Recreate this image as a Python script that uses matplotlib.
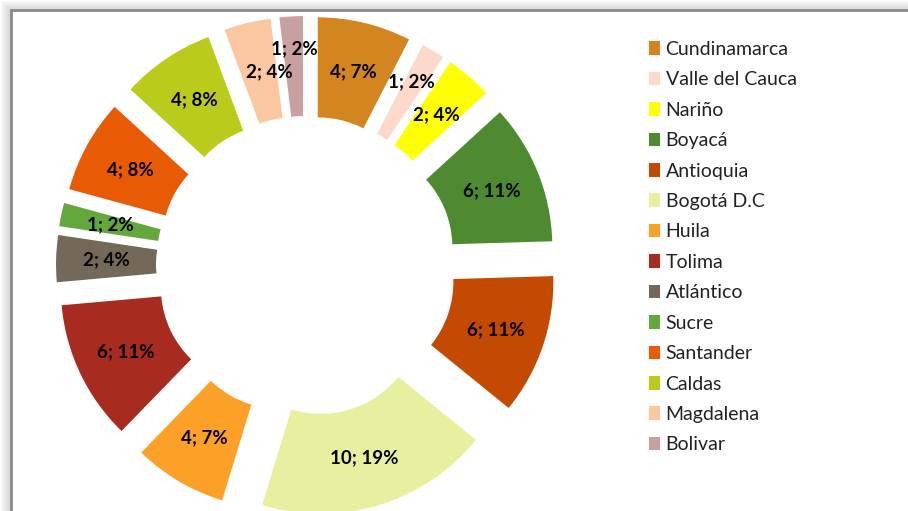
import numpy as np
import matplotlib.pyplot as plt
from matplotlib.patches import Rectangle

plt.rcParams['font.family'] = ['Lato', 'DejaVu Sans']

departamentos = ['Cundinamarca', 'Valle del Cauca', 'Nariño', 'Boyacá', 'Antioquia',
                 'Bogotá D.C', 'Huila', 'Tolima', 'Atlántico', 'Sucre', 'Santander',
                 'Caldas', 'Magdalena', 'Bolivar']
cantidad = [4, 1, 2, 6, 6, 10, 4, 6, 2, 1, 4, 4, 2, 1]
porcentaje = [7, 2, 4, 11, 11, 19, 7, 11, 4, 2, 8, 8, 4, 2]
colores = ['#D38620', '#FCD9C8', '#FFFF00', '#4E8A30', '#C44A02', '#E8F0A0', '#FCA028',
           '#A82B20', '#746858', '#62A83A', '#E85A04', '#BBCB1C', '#FBC7A0', '#C9A0A0']

W, H = 908, 511
fig = plt.figure(figsize=(W / 100, H / 100), dpi=100)
ax = fig.add_axes([0, 0, 1, 1])

# marco con sombra (estilo excel)
for i in range(10):
    g = 0.97 - 0.015 * i
    ax.add_patch(Rectangle((1 + i, -50), W + 50, H - 1 - i + 50, facecolor=(g, g, g),
                           edgecolor='none', zorder=0))
ax.add_patch(Rectangle((11, -50), W + 50, H - 10 + 50, facecolor='white',
                       edgecolor='#8a8a8a', linewidth=2, zorder=0.5))

cx, cy = 306, H - 266
R = 200
sep = 50  # desplazamiento de cada porcion
etiquetas = ['%d; %d%%' % (c, p) for c, p in zip(cantidad, porcentaje)]
wedges, _ = ax.pie(cantidad, colors=colores, startangle=90, counterclock=False,
                   radius=R, center=(cx, cy), explode=[sep] * len(cantidad),
                   wedgeprops=dict(width=R / 2, linewidth=0), frame=True)
ax.set_xlim(0, W)
ax.set_ylim(0, H)
ax.set_aspect('equal')
ax.axis('off')

# etiquetas al centro del anillo
ajuste = {1: (4, 12), 12: (10, 0), 13: (0, 18)}
total = sum(cantidad)
acum = 0
for i, c in enumerate(cantidad):
    ang = np.deg2rad(90 - (acum + c / 2) / total * 360)
    acum += c
    dx, dy = ajuste.get(i, (0, 0))
    x = cx + (0.75 * R + sep) * np.cos(ang) + dx
    y = cy + (0.75 * R + sep) * np.sin(ang) + dy
    ax.text(x, y, etiquetas[i], ha='center', va='center', fontsize=13.5,
            fontweight='bold', color='black', zorder=5)

leg = ax.legend(wedges, departamentos, loc='upper left', bbox_to_anchor=(649 / W, 1 - 41 / H),
                frameon=False, fontsize=14, handlelength=0.55, handleheight=0.7,
                handletextpad=0.3, labelspacing=0.69, borderaxespad=0, borderpad=0)
for t in leg.get_texts():
    t.set_color('#222222')

fig.savefig('out.png', dpi=100)
